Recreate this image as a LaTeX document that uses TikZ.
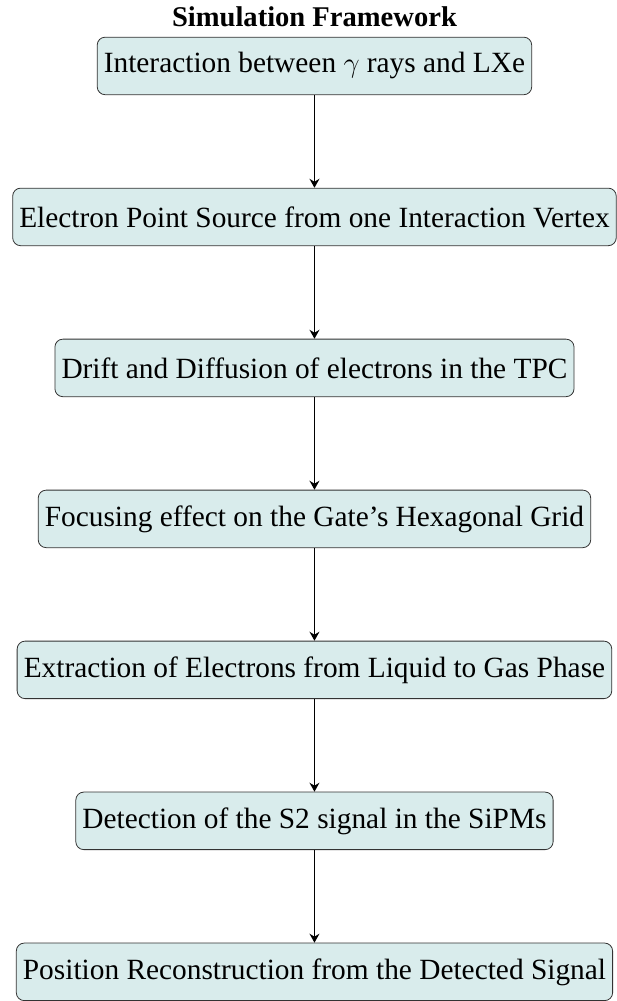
\documentclass[tikz,border=0pt]{standalone}
\usepackage{fontspec}
\setmainfont{Liberation Serif}
\usepackage{amsmath}
\usepackage{xcolor}
\usepackage{tikz}
\usetikzlibrary{arrows.meta, positioning}
\tikzset{
  stage/.style={rectangle, rounded corners=4pt, draw=black!80, fill=teal!15,
              minimum height=29pt, align=center, font=\fontsize{14.8}{17}\selectfont},
  arr/.style={-{Stealth[length=4.5pt, width=5pt]}, line width=0.9pt},
}
\begin{document}
\begin{tikzpicture}[node distance=46.7pt]
  % Stages, top to bottom
  \node[stage] (interact) {Interaction between $\gamma$ rays and LXe};
  \node[stage, below=of interact] (source)  {Electron Point Source from one Interaction Vertex};
  \node[stage, below=of source]   (drift)   {Drift and Diffusion of electrons in the TPC};
  \node[stage, below=of drift]    (focus)   {Focusing effect on the Gate's Hexagonal Grid};
  \node[stage, below=of focus]    (extract) {Extraction of Electrons from Liquid to Gas Phase};
  \node[stage, below=of extract]  (detect)  {Detection of the S2 signal in the SiPMs};
  \node[stage, below=of detect]   (reco)    {Position Reconstruction from the Detected Signal};

  % Title
  \node[font=\fontsize{14.4}{17}\selectfont\bfseries, above=1.5pt of interact] (title) {Simulation Framework};

  % Arrows
  \draw[arr] (interact) -- (source);
  \draw[arr] (source)   -- (drift);
  \draw[arr] (drift)    -- (focus);
  \draw[arr] (focus)    -- (extract);
  \draw[arr] (extract)  -- (detect);
  \draw[arr] (detect)   -- (reco);

  \useasboundingbox ([xshift=-158.5pt,yshift=18.5pt]interact.north) rectangle ++(309.5pt,-500.5pt);
\end{tikzpicture}
\end{document}
